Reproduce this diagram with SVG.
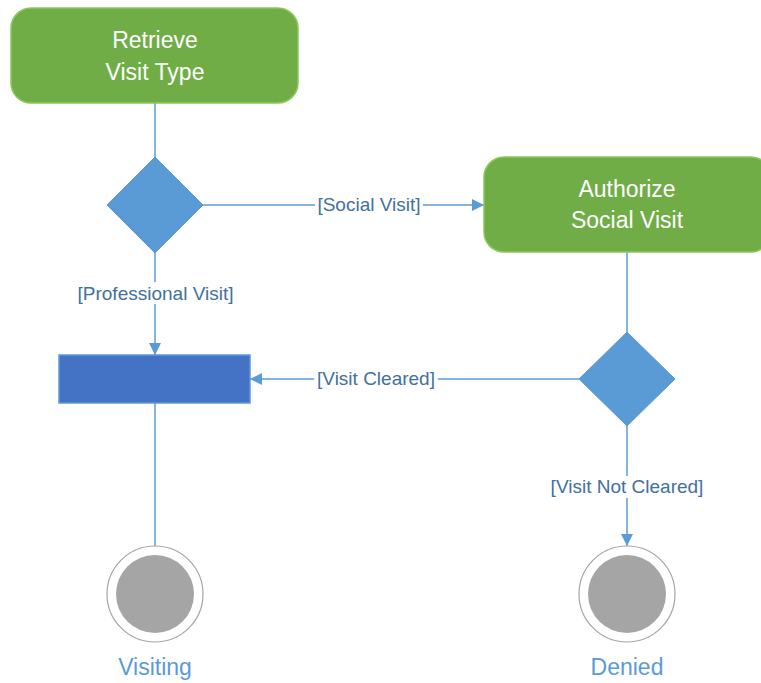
<svg xmlns="http://www.w3.org/2000/svg" width="761" height="683" viewBox="0 0 761 683">
<defs>
<style>
.act{fill:#70AD47;stroke:#8CC85A;stroke-width:1.5}
.act-t{fill:#FFFFFF;font-family:"Liberation Sans",Arial,sans-serif;font-size:23px;text-anchor:middle}
.dec{fill:#5B9BD5;stroke:#5B9BD5;stroke-width:1}
.bar{fill:#4472C4;stroke:#5B9BD5;stroke-width:1.5}
.fin-o{fill:#FFFFFF;stroke:#A5A5A5;stroke-width:1.2}
.fin-i{fill:#A5A5A5}
.fin-t{fill:#5B9BD5;font-family:"Liberation Sans",Arial,sans-serif;font-size:23px;text-anchor:middle}
.conn{stroke:#5B9BD5;stroke-width:1.5;fill:none}
.lbl{fill:#41719C;font-family:"Liberation Sans",Arial,sans-serif;font-size:19px;text-anchor:middle}
.lbg{fill:#FFFFFF}
</style>
<marker id="arr" viewBox="0 0 12 12" refX="12" refY="6" markerWidth="12" markerHeight="12" markerUnits="userSpaceOnUse" orient="auto">
<path d="M0,0 L12,6 L0,12 Z" fill="#5B9BD5"/>
</marker>
</defs>
<g id="connectors">
<line class="conn" x1="155" y1="103" x2="155" y2="157"/>
<line class="conn" x1="203" y1="205" x2="484" y2="205" marker-end="url(#arr)"/>
<line class="conn" x1="155" y1="253" x2="155" y2="355" marker-end="url(#arr)"/>
<line class="conn" x1="627" y1="252" x2="627" y2="332"/>
<line class="conn" x1="579" y1="379" x2="250" y2="379" marker-end="url(#arr)"/>
<line class="conn" x1="155" y1="403" x2="155" y2="546"/>
<line class="conn" x1="627" y1="426" x2="627" y2="546" marker-end="url(#arr)"/>
<rect class="lbg" x="315" y="194" width="108" height="22"/>
<text class="lbl" x="369" y="211">[Social Visit]</text>
<rect class="lbg" x="75" y="282" width="161" height="22"/>
<text class="lbl" x="155.5" y="300">[Professional Visit]</text>
<rect class="lbg" x="314" y="368" width="124" height="22"/>
<text class="lbl" x="376" y="385">[Visit Cleared]</text>
<rect class="lbg" x="546" y="476" width="162" height="22"/>
<text class="lbl" x="627" y="493">[Visit Not Cleared]</text>
</g>
<g id="retrieve-visit-type">
<rect class="act" x="11" y="8" width="287" height="95" rx="20" ry="20"/>
<text class="act-t" x="155" y="48">Retrieve</text>
<text class="act-t" x="155" y="80">Visit Type</text>
</g>
<g id="decision-visit-type">
<polygon class="dec" points="155,157 203,205 155,253 107,205"/>
</g>
<g id="authorize-social-visit">
<rect class="act" x="484" y="157" width="287" height="95" rx="20" ry="20"/>
<text class="act-t" x="627" y="197">Authorize</text>
<text class="act-t" x="627" y="228">Social Visit</text>
</g>
<g id="decision-cleared">
<polygon class="dec" points="627,332 675,379 627,426 579,379"/>
</g>
<g id="join-bar">
<rect class="bar" x="59" y="355" width="191" height="48"/>
</g>
<g id="final-visiting">
<circle class="fin-o" cx="155" cy="594" r="48"/>
<circle class="fin-i" cx="155" cy="594" r="39"/>
<text class="fin-t" x="155" y="675">Visiting</text>
</g>
<g id="final-denied">
<circle class="fin-o" cx="627" cy="594" r="48"/>
<circle class="fin-i" cx="627" cy="594" r="39"/>
<text class="fin-t" x="627" y="675">Denied</text>
</g>
</svg>
